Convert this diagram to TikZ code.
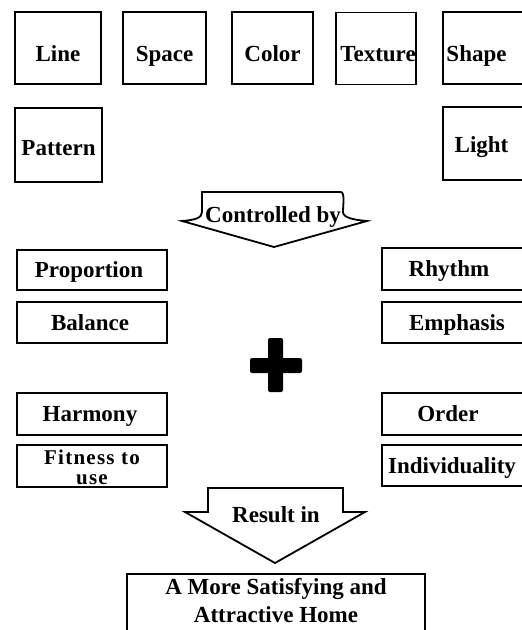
\documentclass[tikz,border=0pt]{standalone}
\usepackage{fontspec}
\setmainfont{Liberation Serif}
\newcommand\txtshift[2]{\makebox[0pt]{\hspace*{#1}#2\hspace*{-#1}}}
\begin{document}
\begin{tikzpicture}[x=1pt,y=-1pt,
  every node/.style={font=\fontsize{23}{27}\selectfont\bfseries},
  box/.style={draw, line width=1.6pt, inner sep=0pt, text height=15pt, text depth=0pt},
  topbox/.style={box, minimum height=72pt, text height=26pt},
  colbox/.style={box, minimum width=150pt},
  arrowshape/.style={draw, fill=white, line width=1.8pt, line join=miter},
  plusbar/.style={fill=black, rounded corners=2pt}]
\useasboundingbox (0,0) rectangle (522,630);
\clip (0,0) rectangle (522,630);
% top row
\node[topbox, minimum width=86pt] (line) at (58,48) {Line};
\node[topbox, minimum width=83pt] (space) at (164.5,48) {Space};
\node[topbox, minimum width=81pt] (color) at (272.5,48) {Color};
\node[topbox, minimum width=80pt] (texture) at (376,48.5) {\txtshift{2pt}{Texture}};
\node[topbox, minimum width=87pt] (shape) at (486.5,48) {\txtshift{-10pt}{Shape}};
% second row
\node[box, minimum width=87pt, minimum height=74pt, text height=20pt] (pattern) at (58.5,145) {Pattern};
\node[box, minimum width=87pt, minimum height=73pt, text height=17pt] (light) at (486.5,143.5) {\txtshift{-5pt}{Light}};
% controlled by arrow
\draw[arrowshape] (202,192) -- (341,192) .. controls (345,193) and (343,205) .. (343,212)
  .. controls (343,218) and (355,220) .. (367,221) -- (274,247) -- (182,221)
  .. controls (195,220) and (202,218) .. (202,212) -- cycle;
\node[anchor=base, inner sep=0pt] (ctrl) at (273,222) {Controlled by};
% left column
\node[colbox, minimum height=40pt] (proportion) at (92,270) {\txtshift{-3pt}{Proportion}};
\node[colbox, minimum height=41pt] (balance) at (92,322.5) {\txtshift{-2pt}{Balance}};
\node[colbox, minimum height=42pt] (harmony) at (92,414) {\txtshift{-2pt}{Harmony}};
\node[colbox, minimum height=42pt, text height=0pt, text depth=0pt] (fitness) at (92,466)
  {\raisebox{-18pt}[0pt][0pt]{\parbox[b]{150pt}{\fontsize{21}{20}\selectfont\bfseries\addfontfeature{LetterSpace=6}\centering Fitness to\\use}}};
% right column
\node[colbox, minimum height=42pt] (rhythm) at (457,269) {\txtshift{-8pt}{Rhythm}};
\node[colbox, minimum height=41pt] (emphasis) at (457,322.5) {Emphasis};
\node[colbox, minimum height=42pt] (order) at (457,414) {\txtshift{-9pt}{Order}};
\node[colbox, minimum height=41pt] (individuality) at (457,465.5) {\txtshift{-5pt}{Individuality}};
% plus sign
\fill[plusbar] (268,338) rectangle (283,392);
\fill[plusbar] (250,358) rectangle (302,373);
% result in arrow
\draw[arrowshape] (208,488) -- (343,488) -- (343,512) -- (365,512) -- (275,563)
  -- (185,512) -- (208,512) -- cycle;
\node[anchor=base, inner sep=0pt] (result) at (276,522) {Result in};
% final box
\node[box, minimum width=298pt, minimum height=80pt, anchor=north, text height=0pt, text depth=0pt] (home) at (276,573)
  {\raisebox{-9pt}[0pt][0pt]{\parbox[b]{298pt}{\centering\baselineskip=28pt A More Satisfying and\\Attractive Home}}};
\end{tikzpicture}
\end{document}
